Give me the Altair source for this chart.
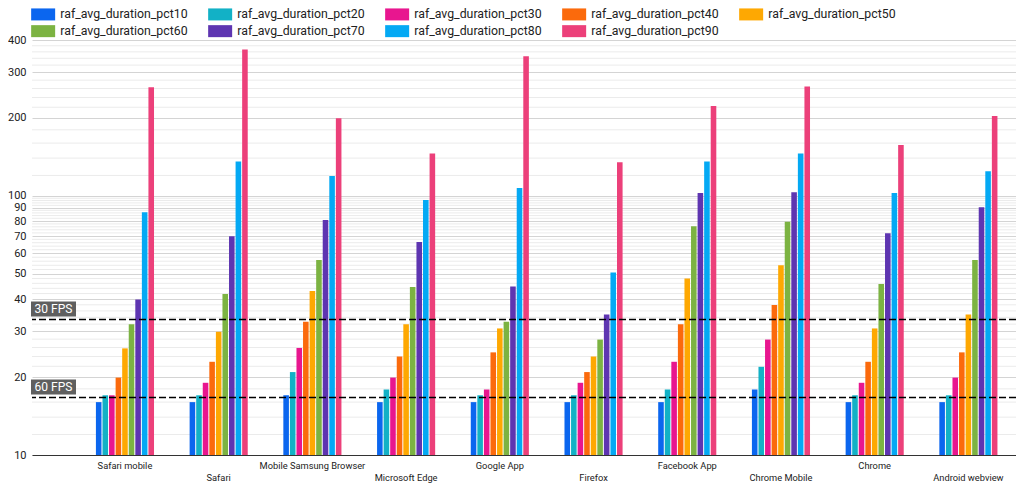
import altair as alt
import pandas as pd

browsers = ["Safari mobile", "Safari", "Mobile Samsung Browser", "Microsoft Edge",
            "Google App", "Firefox", "Facebook App", "Chrome Mobile", "Chrome",
            "Android webview"]

series_names = ["raf_avg_duration_pct10", "raf_avg_duration_pct20", "raf_avg_duration_pct30",
                "raf_avg_duration_pct40", "raf_avg_duration_pct50", "raf_avg_duration_pct60",
                "raf_avg_duration_pct70", "raf_avg_duration_pct80", "raf_avg_duration_pct90"]

pct10 = [16, 16, 17, 16, 16, 16, 16, 17.9, 16, 16]
pct20 = [17, 17, 20.9, 17.9, 17, 17, 17.9, 21.9, 17, 17]
pct30 = [17, 19, 25.9, 19.9, 17.9, 19, 22.9, 27.9, 19, 19.9]
pct40 = [19.9, 22.9, 32.7, 24, 24.9, 20.9, 32, 37.9, 22.9, 24.9]
pct50 = [25.8, 29.9, 43, 32, 30.8, 24, 48, 54, 30.8, 34.9]
pct60 = [32, 41.8, 56.6, 44.5, 32.7, 27.9, 76.4, 79.6, 45.7, 56.6]
pct70 = [39.8, 69.9, 80.8, 66.4, 44.7, 34.9, 102.7, 103.3, 71.8, 90.4]
pct80 = [86.5, 135.7, 119.5, 96.5, 107.4, 50.6, 135.7, 145.7, 102.7, 124.5]
pct90 = [262.8, 367.3, 199.5, 145.7, 346, 134.9, 222.6, 264.3, 157.3, 203.7]

series_values = [pct10, pct20, pct30, pct40, pct50, pct60, pct70, pct80, pct90]
colors = ["#0b66ef", "#12b1c6", "#e8168f", "#fb6a0c", "#fea802",
          "#7cb342", "#5e35b1", "#04a9f4", "#ec407a"]

y_ticks = [10, 20, 30, 40, 50, 60, 70, 80, 90, 100, 200, 300, 400]
minor_grid = [v for v in range(12, 100, 2) if v % 10 != 0] + \
             [v for v in range(120, 400, 20) if v % 100 != 0]

fps_values = [33.333, 16.667]
fps_labels = ["30 FPS", "60 FPS"]

rows = []
for name, vals in zip(series_names, series_values):
    for b, v in zip(browsers, vals):
        rows.append({"browser": b, "series": name, "value": v, "base": 10})
df = pd.DataFrame(rows)
grid_df = pd.DataFrame({"g": minor_grid})
fps_df = pd.DataFrame({"fps": fps_values, "label": fps_labels})

yscale = alt.Scale(type="log", domain=[10, 400], nice=False)
names_js = "[" + ",".join("'" + b + "'" for b in browsers) + "]"
label_expr = f"indexof({names_js}, datum.value) % 2 == 1 ? ['', datum.value] : datum.value"

grid = alt.Chart(grid_df).mark_rule(color="#ebebeb", strokeWidth=1).encode(
    y=alt.Y("g:Q", scale=yscale)
)

bars = alt.Chart(df).mark_bar().encode(
    x=alt.X("browser:N", sort=browsers,
            scale=alt.Scale(paddingInner=0.38, paddingOuter=0.44, align=0.775),
            axis=alt.Axis(title=None, labelAngle=0, ticks=False, domainColor="#333333",
                          labelFont="Roboto", labelFontSize=9.3, labelColor="#222222",
                          labelPadding=6, labelLineHeight=12.5, labelExpr=label_expr,
                          grid=False)),
    xOffset=alt.XOffset("series:N", sort=series_names,
                        scale=alt.Scale(paddingInner=0.15, paddingOuter=0)),
    y=alt.Y("value:Q", scale=yscale,
            axis=alt.Axis(title=None, values=y_ticks, domain=False, ticks=False,
                          labelFont="Roboto", labelFontSize=11, labelColor="#222222",
                          labelPadding=6, gridColor="#d4d4d4", grid=True)),
    y2="base:Q",
    color=alt.Color("series:N", sort=series_names,
                    scale=alt.Scale(domain=series_names, range=colors),
                    legend=alt.Legend(orient="none", legendX=5, legendY=-32, columns=5,
                                      direction="horizontal", title=None,
                                      symbolType="M-2,-1H2V1H-2Z", symbolSize=144,
                                      symbolStrokeWidth=0, labelFont="Roboto",
                                      labelFontSize=12.3, labelColor="#222222",
                                      columnPadding=20, rowPadding=4, labelOffset=11,
                                      padding=0)),
)

rules = alt.Chart(fps_df).mark_rule(color="#000000", strokeWidth=1.5, strokeDash=[7, 3]).encode(
    y=alt.Y("fps:Q", scale=yscale)
)

boxes = alt.Chart(fps_df).mark_rect(color="#5f5f5f", yOffset=-18, y2Offset=-3).encode(
    x=alt.value(-1), x2=alt.value(44),
    y=alt.Y("fps:Q", scale=yscale), y2="fps:Q"
)

box_text = alt.Chart(fps_df).mark_text(color="white", font="Roboto", fontSize=12,
                                       align="center", baseline="middle", dy=-10.5).encode(
    x=alt.value(21.5), y=alt.Y("fps:Q", scale=yscale), text="label:N"
)

chart = alt.layer(grid, bars, rules, boxes, box_text).properties(
    width=984, height=415,
    autosize=alt.AutoSizeParams(type="none"),
    padding={"left": 24, "top": 32, "right": 0, "bottom": 28},
).configure_view(strokeWidth=0)

chart.save("out.html", embed_options={"renderer": "svg", "actions": False})
